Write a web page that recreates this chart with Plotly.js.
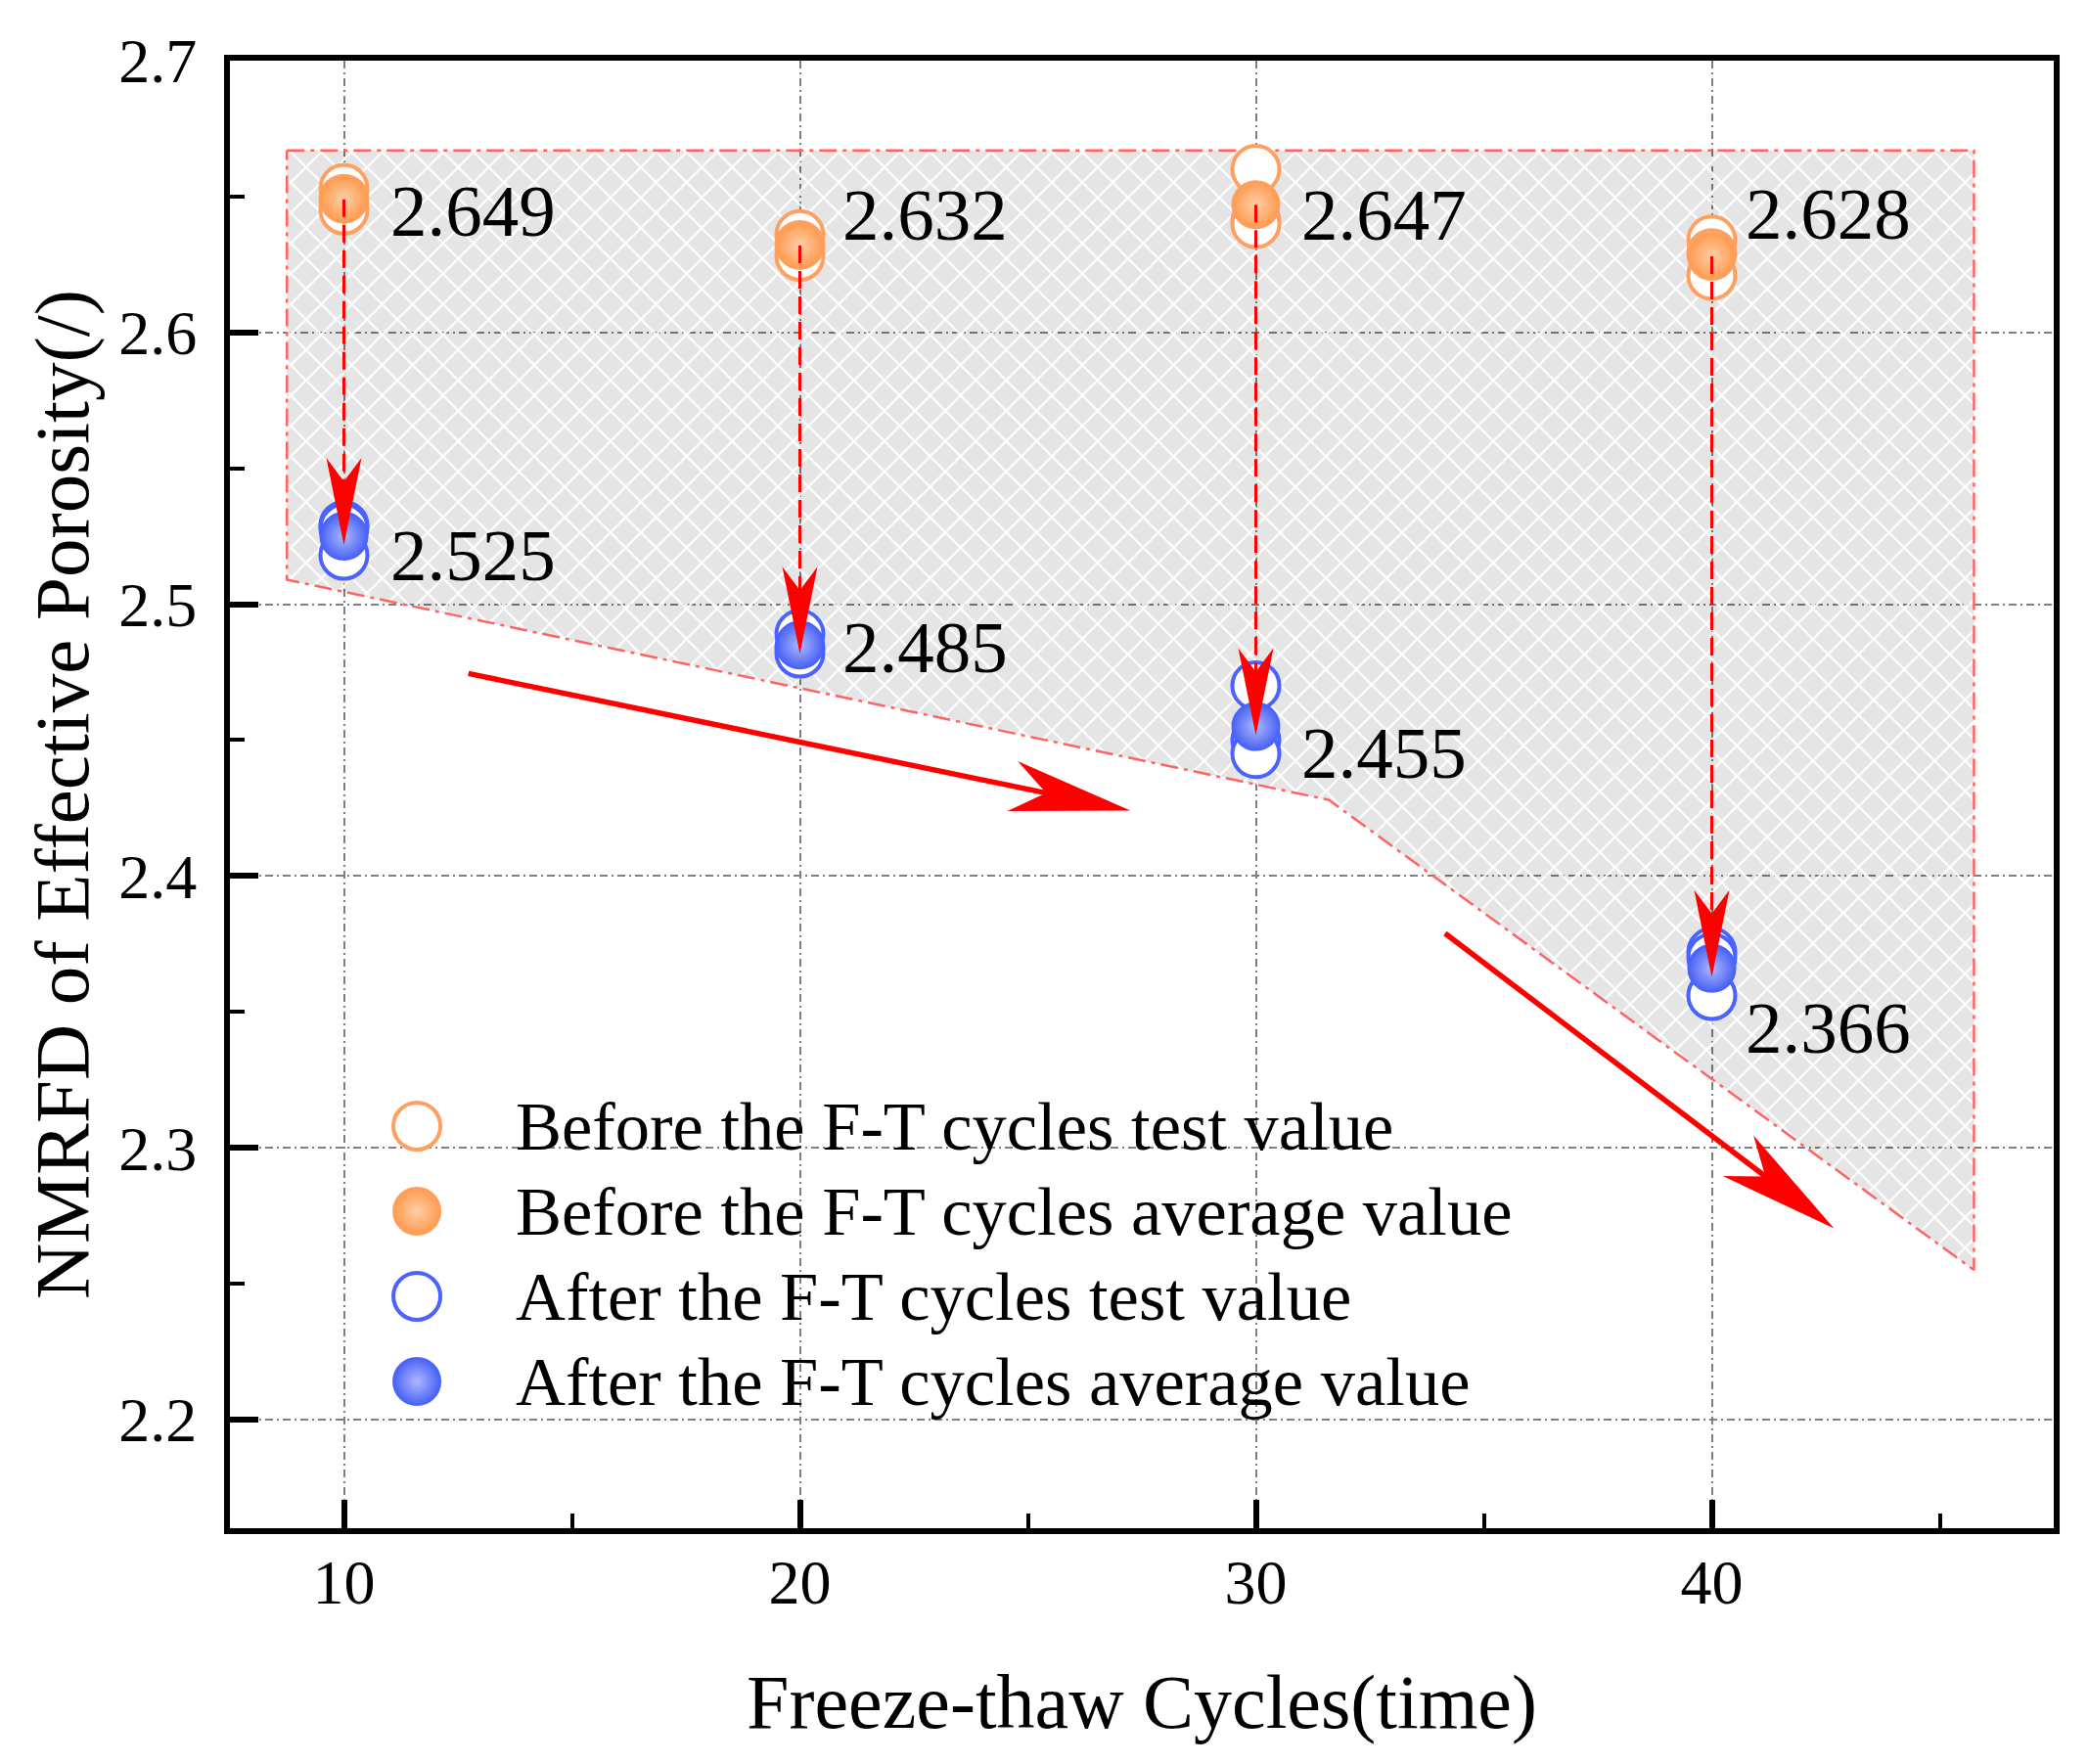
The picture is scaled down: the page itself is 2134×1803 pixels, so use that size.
<!DOCTYPE html>
<html>
<head>
<meta charset="utf-8">
<script src="https://cdn.plot.ly/plotly-3.0.1.min.js"></script>
<style>
  html, body { margin: 0; padding: 0; background: #ffffff; }
  #chart { width: 2134px; height: 1803px; }
</style>
</head>
<body>
<div id="chart"></div>
<script>
// ---------------- data ----------------
const cycles = [10, 20, 30, 40];
const beforeTest = [
  [2.653, 2.649, 2.645],
  [2.636, 2.632, 2.628],
  [2.660, 2.641, 2.640],
  [2.634, 2.629, 2.621]
];
const beforeAvg = [2.649, 2.632, 2.647, 2.628];
const afterTest = [
  [2.529, 2.528, 2.518],
  [2.489, 2.484, 2.482],
  [2.470, 2.450, 2.445],
  [2.372, 2.370, 2.356]
];
const afterAvg = [2.525, 2.485, 2.455, 2.366];

// shaded region (hatched band)
const regionX = [8.75, 45.75, 45.75, 31.6, 8.75, 8.75];
const regionY = [2.667, 2.667, 2.255, 2.428, 2.509, 2.667];

// trend arrows
const trendStartX = [12.73, 34.15];
const trendStartY = [2.4745, 2.3789];
const trendEndX = [27.25, 42.68];
const trendEndY = [2.4241, 2.2703];

const xTickVals = [10, 20, 30, 40];
const yTickVals = [2.2, 2.3, 2.4, 2.5, 2.6, 2.7];
const yTickText = ['2.2', '2.3', '2.4', '2.5', '2.6', '2.7'];

const legendLabels = [
  'Before the F-T cycles test value',
  'Before the F-T cycles average value',
  'After the F-T cycles test value',
  'After the F-T cycles average value'
];

// ---------------- layout constants ----------------
const W = 2134, H = 1803;
const M = { l: 235, r: 35, t: 62, b: 241 };
const xRange = [7.5, 47.5];
const yRange = [2.16, 2.7];
const pxX = (W - M.l - M.r) / (xRange[1] - xRange[0]);
const pxY = (H - M.t - M.b) / (yRange[1] - yRange[0]);
const FONT = '"Liberation Serif", "Times New Roman", Times, serif';
const ORANGE = '#FFA060';
const ORANGE_FILL = '#FF9A4E';
const BLUE = '#4A62FF';
const BLUE_FILL = '#4862F4';
const MS = 48;

// label offsets (px) relative to the average marker
const labelDx = [45, 41, 44, 32];
const beforeLabelDy = [-12, 31, -10, 44];
const afterLabelDy = [-19, -2, -27, -61];

// legend placement (paper fractions)
const legendMarkerX = 0.1025;
const legendTextX = 0.1556;
const legendRowY = [0.274, 0.216, 0.158, 0.100];

// ---------------- traces ----------------
function flatX(groups) { const out = []; groups.forEach((g, i) => g.forEach(() => out.push(cycles[i]))); return out; }
function flatY(groups) { const out = []; groups.forEach(g => g.forEach(v => out.push(v))); return out; }

const traces = [];

traces.push({
  x: regionX, y: regionY, mode: 'lines', fill: 'toself',
  fillcolor: 'rgba(0,0,0,0.10)',
  fillpattern: { shape: 'x', size: 22, solidity: 0.18, fgcolor: '#ffffff', bgcolor: 'rgba(0,0,0,0.10)', fgopacity: 1 },
  line: { color: '#FF6464', width: 2.5, dash: '18px,6px,4px,6px' },
  hoverinfo: 'skip', showlegend: false
});

traces.push({
  name: legendLabels[0], x: flatX(beforeTest), y: flatY(beforeTest), mode: 'markers',
  marker: { symbol: 'circle', size: MS, color: '#ffffff', line: { color: ORANGE, width: 4 } },
  showlegend: false
});
traces.push({
  name: legendLabels[1], x: cycles, y: beforeAvg, mode: 'markers',
  marker: { symbol: 'circle', size: MS, color: ORANGE_FILL, gradient: { type: 'radial', color: '#FFCFA8' }, line: { color: ORANGE, width: 2 } },
  showlegend: false
});
traces.push({
  name: legendLabels[2], x: flatX(afterTest), y: flatY(afterTest), mode: 'markers',
  marker: { symbol: 'circle', size: MS, color: '#ffffff', line: { color: BLUE, width: 4 } },
  showlegend: false
});
traces.push({
  name: legendLabels[3], x: cycles, y: afterAvg, mode: 'markers',
  marker: { symbol: 'circle', size: MS, color: BLUE_FILL, gradient: { type: 'radial', color: '#AEB8FF' }, line: { color: BLUE, width: 2 } },
  showlegend: false
});

// dashed vertical connectors before -> after
const connX = [], connY = [];
cycles.forEach((c, i) => { connX.push(c, c, null); connY.push(beforeAvg[i], afterAvg[i], null); });
traces.push({
  x: connX, y: connY, mode: 'lines',
  line: { color: '#FF0000', width: 3, dash: '18px,8px' },
  hoverinfo: 'skip', showlegend: false
});

// legend markers on overlay axes (paper-like 0..1)
traces.push({
  x: legendRowY.map(() => legendMarkerX), y: legendRowY, xaxis: 'x2', yaxis: 'y2', mode: 'markers',
  marker: {
    symbol: 'circle', size: MS,
    color: ['#ffffff', ORANGE_FILL, '#ffffff', BLUE_FILL],
    gradient: { type: ['none', 'radial', 'none', 'radial'], color: ['#ffffff', '#FFCFA8', '#ffffff', '#AEB8FF'] },
    line: { color: [ORANGE, ORANGE, BLUE, BLUE], width: [4, 2, 4, 2] }
  },
  hoverinfo: 'skip', showlegend: false
});

// ---------------- shapes (arrow heads / shafts) ----------------
const shapes = [];
function pathFrom(pts) { return 'M' + pts.map(p => p[0].toFixed(1) + ',' + p[1].toFixed(1)).join(' L') + ' Z'; }

// small heads on the vertical connectors (pixel geometry, anchored at after average)
cycles.forEach((c, i) => {
  shapes.push({
    type: 'path', xref: 'x', yref: 'y', xsizemode: 'pixel', ysizemode: 'pixel',
    xanchor: c, yanchor: afterAvg[i],
    path: pathFrom([[0, -9], [-18, 80], [0, 56], [18, 80]]),
    fillcolor: '#FF0000', line: { width: 0 }, layer: 'above'
  });
});

// big trend arrows
const HL = 123, HW = 26, HN = 88;
trendStartX.forEach((sx, k) => {
  const ex = trendEndX[k], ey = trendEndY[k], sy = trendStartY[k];
  const dxp = (ex - sx) * pxX, dyp = (ey - sy) * pxY;
  const len = Math.hypot(dxp, dyp);
  const ux = dxp / len, uy = dyp / len;
  const nx = -uy, ny = ux;
  const back = HN - 15;
  shapes.push({
    type: 'line', xref: 'x', yref: 'y',
    x0: sx, y0: sy, x1: ex - back * ux / pxX, y1: ey - back * uy / pxY,
    line: { color: '#FF0000', width: 5.5 }, layer: 'above'
  });
  shapes.push({
    type: 'path', xref: 'x', yref: 'y', xsizemode: 'pixel', ysizemode: 'pixel',
    xanchor: ex, yanchor: ey,
    path: pathFrom([
      [0, 0],
      [-HL * ux + HW * nx, -HL * uy + HW * ny],
      [-HN * ux, -HN * uy],
      [-HL * ux - HW * nx, -HL * uy - HW * ny]
    ]),
    fillcolor: '#FF0000', line: { width: 0 }, layer: 'above'
  });
});

// ---------------- annotations ----------------
const annotations = [];
cycles.forEach((c, i) => {
  annotations.push({
    x: c, y: beforeAvg[i], xref: 'x', yref: 'y', text: beforeAvg[i].toFixed(3), showarrow: false,
    xanchor: 'left', yanchor: 'middle', xshift: labelDx[i], yshift: beforeLabelDy[i],
    font: { family: FONT, size: 75, color: '#000000' }
  });
  annotations.push({
    x: c, y: afterAvg[i], xref: 'x', yref: 'y', text: afterAvg[i].toFixed(3), showarrow: false,
    xanchor: 'left', yanchor: 'middle', xshift: labelDx[i], yshift: afterLabelDy[i],
    font: { family: FONT, size: 75, color: '#000000' }
  });
});
legendLabels.forEach((t, i) => {
  annotations.push({
    x: legendTextX, y: legendRowY[i], xref: 'paper', yref: 'paper', text: t, showarrow: false,
    xanchor: 'left', yanchor: 'middle', font: { family: FONT, size: 70.5, color: '#000000' }
  });
});

// ---------------- layout ----------------
const axisCommon = {
  showline: true, linecolor: '#000000', linewidth: 6, mirror: true,
  ticks: 'inside', ticklen: 29, tickwidth: 6, tickcolor: '#000000',
  showgrid: true, gridcolor: '#7f7f7f', gridwidth: 2, griddash: '8px,4px,2px,4px',
  zeroline: false, automargin: false, fixedrange: true,
  tickfont: { family: FONT, size: 64, color: '#000000' }
};

const layout = {
  width: W, height: H,
  margin: M,
  paper_bgcolor: '#ffffff', plot_bgcolor: '#ffffff',
  showlegend: false,
  font: { family: FONT, color: '#000000' },
  xaxis: Object.assign({}, axisCommon, {
    range: xRange, tickmode: 'array', tickvals: xTickVals, ticktext: xTickVals.map(String),
    ticklabelstandoff: -6,
    minor: { tickmode: 'linear', tick0: 5, dtick: 5, ticks: 'inside', ticklen: 15, tickwidth: 4, tickcolor: '#000000', showgrid: false },
    title: { text: 'Freeze-thaw Cycles(time)', font: { family: FONT, size: 78, color: '#000000' }, standoff: 62 }
  }),
  yaxis: Object.assign({}, axisCommon, {
    range: yRange, tickmode: 'array', tickvals: yTickVals, ticktext: yTickText,
    ticklabelstandoff: 15,
    minor: { tickmode: 'linear', tick0: 2.15, dtick: 0.05, ticks: 'inside', ticklen: 15, tickwidth: 4, tickcolor: '#000000', showgrid: false },
    title: { text: 'NMRFD of Effective Porosity(/)', font: { family: FONT, size: 79, color: '#000000' }, standoff: 7 }
  }),
  xaxis2: { overlaying: 'x', range: [0, 1], visible: false, fixedrange: true },
  yaxis2: { overlaying: 'y', range: [0, 1], visible: false, fixedrange: true },
  shapes: shapes,
  annotations: annotations
};

Plotly.newPlot('chart', traces, layout, { staticPlot: true, displayModeBar: false });
</script>
</body>
</html>
